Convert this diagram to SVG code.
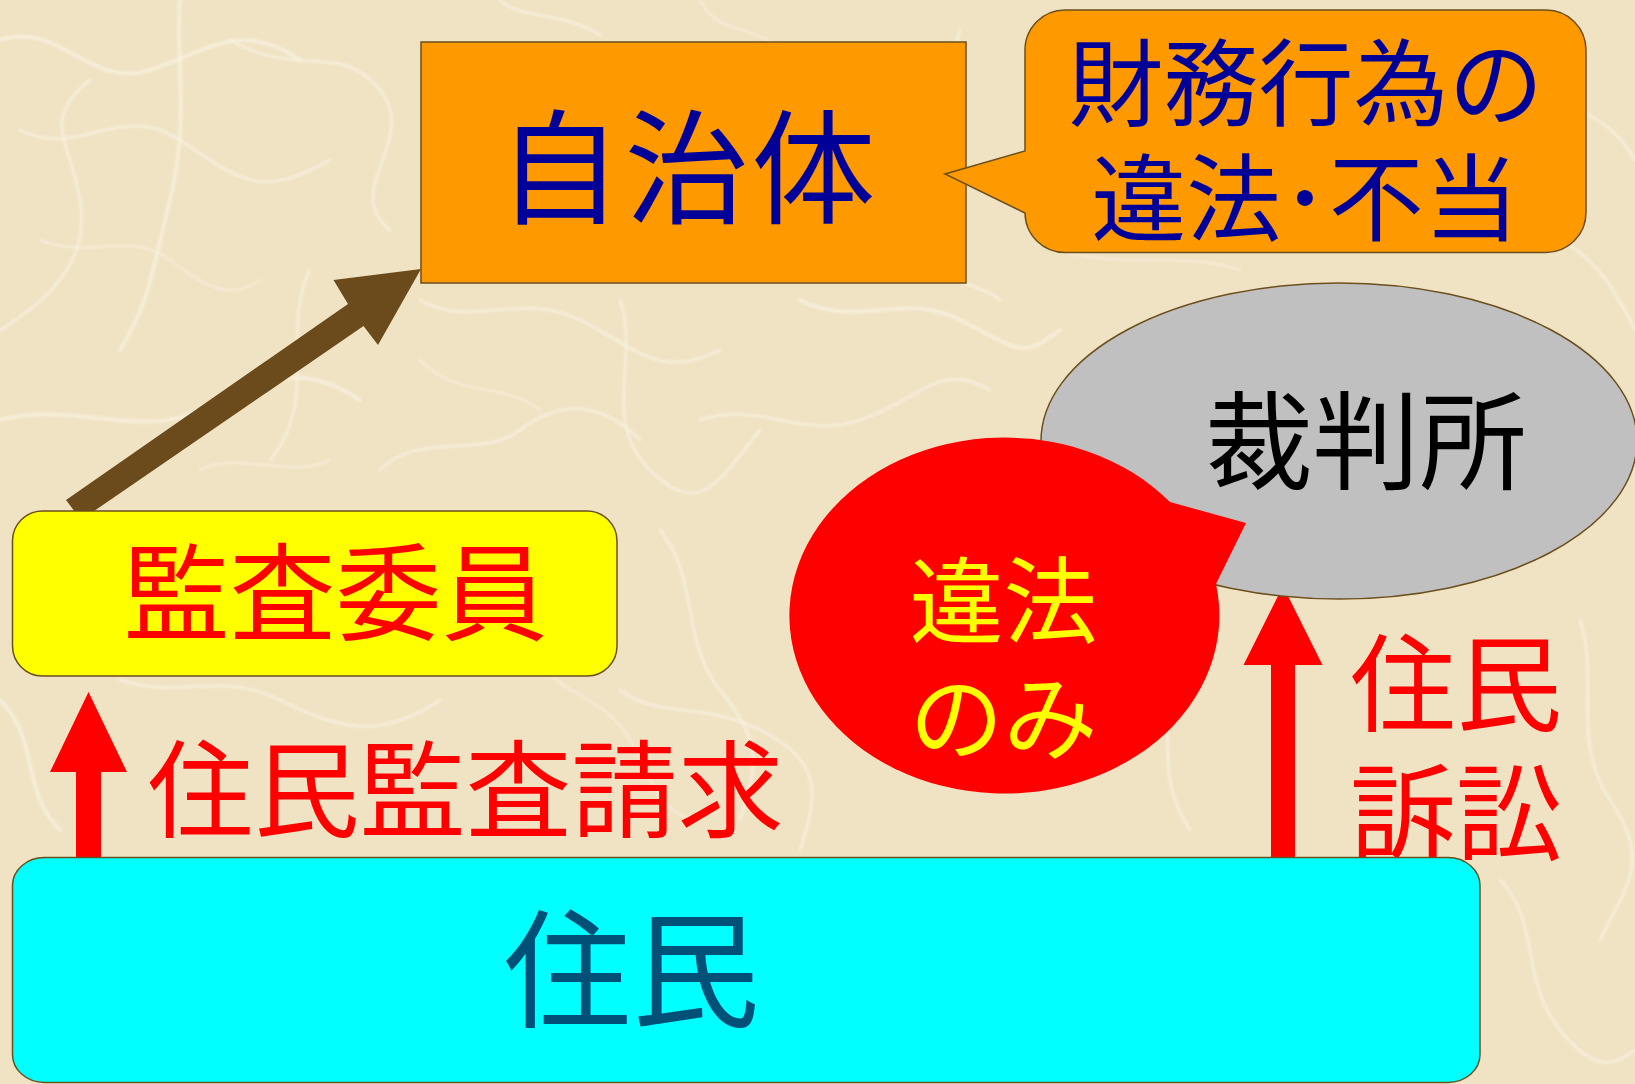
<svg xmlns="http://www.w3.org/2000/svg" width="1635" height="1084" viewBox="0 0 1635 1084">
<style>
.jp{font-family:"Noto Sans CJK JP","Noto Sans CJK SC",sans-serif;text-anchor:middle}
.shape{stroke:#6B4F1D;stroke-width:1.5}
.fiber{fill:none;stroke:#FCF6EA;stroke-linecap:round;opacity:0.55}
</style>
<defs>
<filter id="soft" x="-5%" y="-5%" width="110%" height="110%"><feGaussianBlur stdDeviation="1.2"/></filter>
</defs>
<g id="background">
<rect x="0" y="0" width="1635" height="1084" fill="#F0E3C4"/>
<g filter="url(#soft)">
<path class="fiber" stroke-width="4" d="M0,40 C60,20 90,90 150,70 S240,20 300,60"/>
<path class="fiber" stroke-width="3" d="M20,130 C80,160 120,100 180,140 S260,200 330,160"/>
<path class="fiber" stroke-width="4" d="M180,0 C175,60 190,120 170,200 S150,300 120,350"/>
<path class="fiber" stroke-width="3" d="M0,330 C50,300 90,260 80,200 S40,120 90,80"/>
<path class="fiber" stroke-width="3" d="M230,40 C300,80 340,40 380,90 S340,190 390,230"/>
<path class="fiber" stroke-width="3" d="M310,270 C280,330 320,400 270,460"/>
<path class="fiber" stroke-width="4" d="M0,420 C70,400 140,440 200,410 S300,360 360,400"/>
<path class="fiber" stroke-width="3" d="M420,300 C470,330 520,290 580,320 S660,380 720,350"/>
<path class="fiber" stroke-width="3" d="M620,300 C640,360 600,420 650,470 S720,480 760,430"/>
<path class="fiber" stroke-width="3" d="M700,420 C760,400 800,440 860,420 S940,360 990,390"/>
<path class="fiber" stroke-width="3" d="M380,470 C420,430 480,460 520,430 S600,400 640,440"/>
<path class="fiber" stroke-width="4" d="M800,300 C860,330 900,290 960,320 S1020,360 1060,330"/>
<path class="fiber" stroke-width="3" d="M960,30 C940,90 980,150 950,220 S980,280 1000,300"/>
<path class="fiber" stroke-width="3" d="M1520,60 C1560,120 1600,100 1635,160"/>
<path class="fiber" stroke-width="3" d="M1560,240 C1600,260 1620,300 1635,330"/>
<path class="fiber" stroke-width="3" d="M1580,620 C1600,680 1570,740 1610,800 S1630,880 1600,940"/>
<path class="fiber" stroke-width="3" d="M1500,880 C1540,920 1520,980 1560,1030 S1620,1060 1635,1050"/>
<path class="fiber" stroke-width="3" d="M660,530 C700,580 680,640 720,690 S760,760 740,820"/>
<path class="fiber" stroke-width="3" d="M620,690 C660,720 700,700 760,730 S820,790 800,850"/>
<path class="fiber" stroke-width="4" d="M0,700 C40,740 20,790 60,830"/>
<path class="fiber" stroke-width="3" d="M120,680 C180,700 220,670 280,700 S380,740 440,700"/>
<path class="fiber" stroke-width="3" d="M1160,660 C1180,720 1150,770 1190,830"/>
<path class="fiber" stroke-width="3" d="M470,560 C520,520 560,560 600,530"/>
<path class="fiber" stroke-width="2" d="M830,120 C860,160 900,140 940,180"/>
<path class="fiber" stroke-width="3" d="M500,0 C520,20 560,10 600,35"/>
<path class="fiber" stroke-width="2" d="M40,240 C90,260 130,230 170,260 S230,300 260,280"/>
<path class="fiber" stroke-width="2" d="M700,0 C720,40 760,20 790,60 S840,90 880,70"/>
<path class="fiber" stroke-width="2" d="M420,360 C460,400 500,380 540,410"/>
<path class="fiber" stroke-width="2" d="M880,470 C900,520 860,560 880,610"/>
<path class="fiber" stroke-width="2" d="M200,470 C240,450 290,480 330,460"/>
<path class="fiber" stroke-width="2" d="M1060,250 C1120,270 1180,250 1240,270"/>
<path class="fiber" stroke-width="2" d="M530,650 C560,700 600,690 630,740 S650,800 690,820"/>
</g>
</g>

<g id="connectors">
<polygon id="arrow-kansa-to-jichitai" fill="#6B4A1B" points="66,500 348,304 333.5,280 421,269 378,345 363.5,326 81,520"/>
<polygon id="arrow-jumin-kansa-seikyu" fill="#FF0000" points="76,858 76,772 50,772 88.5,692 127,772 101,772 101,858"/>
<polygon id="arrow-jumin-sosho" fill="#FF0000" points="1271,858 1271,665 1243.5,665 1283,586 1322.5,665 1295,665 1295,858"/>
</g>

<g id="label-jumin-kansa-seikyu">
<text class="jp" x="465.5" y="829" font-size="106" fill="#FF0000">住民監査請求</text>
</g>
<g id="label-jumin-sosho">
<text class="jp" font-size="106" fill="#FF0000"><tspan x="1456" y="723">住民</tspan><tspan x="1456" y="852">訴訟</tspan></text>
</g>

<g id="node-jichitai">
<rect class="shape" x="421" y="42" width="545" height="241" fill="#FF9900"/>
<text class="jp" x="688" y="214" font-size="124" letter-spacing="3" fill="#000099">自治体</text>
</g>

<g id="node-callout-zaimu">
<path class="shape" fill="#FF9900" d="M1065,10 H1546 A40,40 0 0 1 1586,50 V212.5 A40,40 0 0 1 1546,252.5 H1065 A40,40 0 0 1 1025,213 L945,174 L1025,151 V50 A40,40 0 0 1 1065,10 Z"/>
<text class="jp" font-size="95" fill="#000099"><tspan x="1306" y="119">財務行為の</tspan><tspan x="1305" y="234">違法･不当</tspan></text>
</g>

<g id="node-saibansho">
<ellipse class="shape" cx="1339" cy="441" rx="298" ry="158" fill="#C0C0C0"/>
<text class="jp" x="1366" y="481" font-size="107" fill="#000000">裁判所</text>
</g>

<g id="node-ihou-nomi">
<path fill="#FF0000" d="M1170,502 L1246,523 L1216,584 A215,178 0 1 1 1170,502 Z"/>
<text class="jp" font-size="94" fill="#FFFF00"><tspan x="1003.5" y="636">違法</tspan><tspan x="1003.5" y="753">のみ</tspan></text>
</g>

<g id="node-kansa-iin">
<rect class="shape" x="12.5" y="511" width="604.5" height="165" rx="30" ry="30" fill="#FFFF00"/>
<text class="jp" x="335.5" y="632" font-size="106" fill="#FF0000">監査委員</text>
</g>

<g id="node-jumin">
<rect class="shape" x="12.5" y="857.5" width="1467.5" height="225" rx="32" ry="28" fill="#00FFFF"/>
<text class="jp" x="631.5" y="1018" font-size="128" fill="#005077">住民</text>
</g>
</svg>
